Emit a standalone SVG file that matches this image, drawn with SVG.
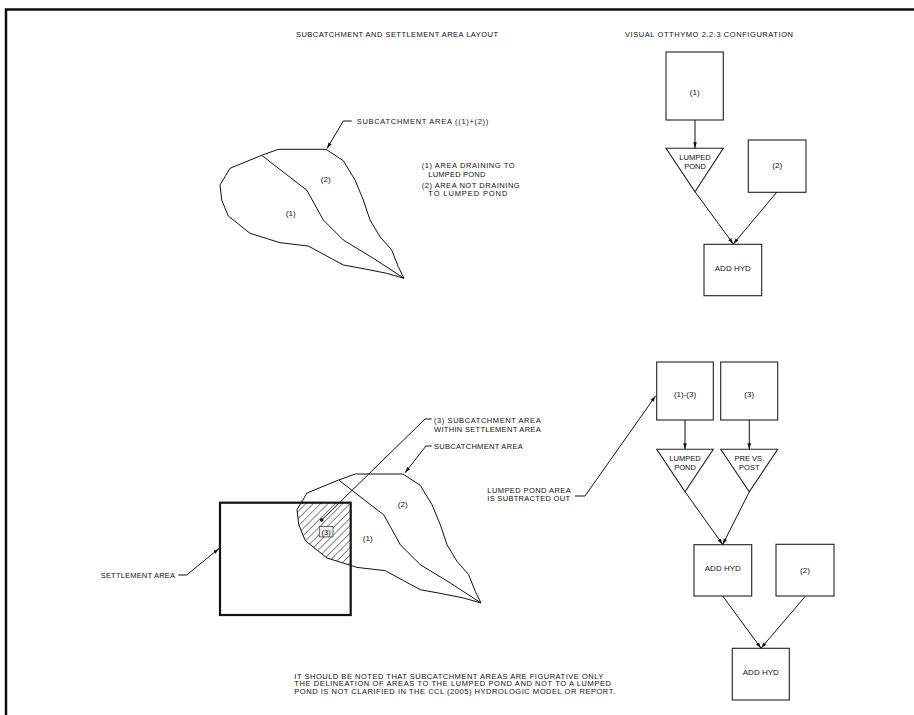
<svg xmlns="http://www.w3.org/2000/svg" width="914" height="715" viewBox="0 0 914 715">
<defs>
<style>
.t{font-family:"Liberation Sans",Arial,sans-serif;font-size:7.5px;fill:#111}
.s8{font-size:8px}
.c{text-anchor:middle}
.ln{fill:none;stroke:#111;stroke-width:1}
.bx{fill:#fff;stroke:#222;stroke-width:1.1}
.poly{fill:none;stroke:#111;stroke-width:1;stroke-linejoin:round}
</style>
<marker id="ar" viewBox="0 0 10 10" refX="10" refY="5" markerWidth="6" markerHeight="6" orient="auto" markerUnits="userSpaceOnUse"><path d="M0,2 L10,5 L0,8 z" fill="#111"/></marker>
<pattern id="hatch" patternUnits="userSpaceOnUse" width="5.2" height="5.2" patternTransform="rotate(45)"><line x1="0" y1="0" x2="0" y2="5.2" stroke="#111" stroke-width="1"/></pattern>
<clipPath id="settleClip"><rect x="220" y="502.7" width="130.7" height="112.3"/></clipPath>
</defs>
<rect x="0" y="0" width="914" height="715" fill="#fff"/>
<path d="M6,715 L6,9.5 L914,9.5" fill="none" stroke="#111" stroke-width="2.5"/>

<text class="t" x="296" y="36.5" textLength="202">SUBCATCHMENT AND SETTLEMENT AREA LAYOUT</text>
<text class="t" x="625" y="36.5" textLength="168">VISUAL OTTHYMO 2.2.3 CONFIGURATION</text>

<g id="top-catchment">
<path class="poly" d="M278.3,149.3 L326,149.3 L343.3,160.7 L355,180 L363.3,200 L370,220 L380,236.7 L391.7,250 L398.3,266.7 L404,278.3 L386.7,273.3 L366.7,269.3 L343.3,265 L326.7,256 L308.3,246 L280,242.7 L250,233.3 L228.3,216 L221.7,200 L220,185 L230,168.3 L261.7,155.3 Z"/>
<path class="poly" d="M261.7,155.3 L300,185 L306.7,190 L315,205 L323.3,220 L343.3,240 L373.3,258.3 L404,278.3"/>
<text class="t c s8" x="325.7" y="181.5">(2)</text>
<text class="t c s8" x="290.7" y="216">(1)</text>
</g>
<g id="top-legend">
<text class="t" x="356.7" y="123.8" textLength="131.6">SUBCATCHMENT AREA ((1)+(2))</text>
<text class="t" x="421.7" y="167.8" textLength="93">(1) AREA DRAINING TO</text>
<text class="t" x="428.3" y="176.8" textLength="57">LUMPED POND</text>
<text class="t" x="421.7" y="187.8" textLength="98">(2) AREA NOT DRAINING</text>
<text class="t" x="428.3" y="196.3" textLength="79">TO LUMPED POND</text>
</g>

<g id="bottom-catchment">
<path d="M355.3,474 L403,474 L420.3,485.4 L432,504.7 L440.3,524.7 L447,544.7 L457,561.4 L468.7,574.7 L475.3,591.4 L481,603 L463.7,598 L443.7,594 L420.3,589.7 L403.7,580.7 L385.3,570.7 L357,567.4 L327,558 L305.3,540.7 L298.7,524.7 L297,509.7 L307,493 L338.7,480 Z" fill="url(#hatch)" clip-path="url(#settleClip)"/>
<path class="poly" d="M355.3,474 L403,474 L420.3,485.4 L432,504.7 L440.3,524.7 L447,544.7 L457,561.4 L468.7,574.7 L475.3,591.4 L481,603 L463.7,598 L443.7,594 L420.3,589.7 L403.7,580.7 L385.3,570.7 L357,567.4 L327,558 L305.3,540.7 L298.7,524.7 L297,509.7 L307,493 L338.7,480 Z"/>
<path class="poly" d="M338.7,480 L377,509.7 L383.7,514.7 L392,529.7 L400.3,544.7 L420.3,564.7 L450.3,583 L481,603"/>
<text class="t c s8" x="402.7" y="506.5">(2)</text>
<text class="t c s8" x="367.7" y="541">(1)</text>
</g>
<g id="settlement-area">
<rect x="220" y="502.7" width="130.7" height="112.3" fill="none" stroke="#111" stroke-width="2.2"/>
<text class="t" x="100.7" y="577.8" textLength="74.3">SETTLEMENT AREA</text>
</g>
<g id="label-3">
<rect x="319.3" y="526.5" width="13.7" height="10.4" fill="#eee" stroke="#444" stroke-width="0.8"/>
<text class="t c" x="326.2" y="534.5">(3)</text>
<circle cx="321.7" cy="520" r="1.8" fill="#111"/>
</g>
<g id="bottom-labels">
<text class="t" x="434" y="423.3" textLength="106.7">(3) SUBCATCHMENT AREA</text>
<text class="t" x="434" y="431.8" textLength="106.7">WITHIN SETTLEMENT AREA</text>
<text class="t" x="434" y="448.8" textLength="88.7">SUBCATCHMENT AREA</text>
<text class="t" x="487.3" y="492.8" textLength="83.4">LUMPED POND AREA</text>
<text class="t" x="487.3" y="501.3" textLength="82.7">IS SUBTRACTED OUT</text>
</g>

<g id="top-flow">
<g id="n-t1"><rect class="bx" x="666" y="52" width="57.3" height="68"/><text class="t c s8" x="694.7" y="95">(1)</text></g>
<g id="n-t-pond"><path class="bx" d="M666,148.3 L723.3,148.3 L695,191.7 Z"/><text class="t c" x="695" y="159.5">LUMPED</text><text class="t c" x="695" y="168.5">POND</text></g>
<g id="n-t2"><rect class="bx" x="748.3" y="140" width="57.7" height="52.3"/><text class="t c s8" x="777.2" y="168">(2)</text></g>
<g id="n-t-add"><rect class="bx" x="704" y="244.3" width="57.7" height="51.4"/><text class="t c s8" x="732.8" y="270.5">ADD HYD</text></g>
</g>

<g id="bottom-flow">
<g id="n-b13"><rect class="bx" x="656.7" y="362" width="56.6" height="58"/><text class="t c s8" x="685" y="396.5">(1)-(3)</text></g>
<g id="n-b3"><rect class="bx" x="720.7" y="362" width="57" height="58"/><text class="t c s8" x="749.2" y="396.5">(3)</text></g>
<g id="n-b-pond"><path class="bx" d="M656.7,449.3 L713.3,449.3 L685,491.7 Z"/><text class="t c" x="685" y="461">LUMPED</text><text class="t c" x="685" y="470">POND</text></g>
<g id="n-b-prepost"><path class="bx" d="M720.7,449.3 L777.7,449.3 L749.3,491.7 Z"/><text class="t c" x="749.3" y="461">PRE VS.</text><text class="t c" x="749.3" y="470">POST</text></g>
<g id="n-b-add1"><rect class="bx" x="694" y="544.7" width="57.7" height="51.3"/><text class="t c s8" x="722.8" y="571">ADD HYD</text></g>
<g id="n-b2"><rect class="bx" x="776" y="544.3" width="58" height="51.7"/><text class="t c s8" x="805" y="572.5">(2)</text></g>
<g id="n-b-add2"><rect class="bx" x="732.3" y="648.3" width="57" height="51.7"/><text class="t c s8" x="760.8" y="674.5">ADD HYD</text></g>
</g>

<g id="connectors">
<path class="ln" d="M351.7,121 L343.3,121 L327,148.5" marker-end="url(#ar)"/>
<path class="ln" d="M431.7,419 L425,419 L321.7,520"/>
<path class="ln" d="M431.7,446 L426,446 L405,472.8" marker-end="url(#ar)"/>
<path class="ln" d="M178.3,575 L186.7,575 L219,548.5" marker-end="url(#ar)"/>
<path class="ln" d="M575,496 L585,496 L655.5,396" marker-end="url(#ar)"/>
<path class="ln" d="M695,120 L695,148.3" marker-end="url(#ar)"/>
<path class="ln" d="M695,191.7 L733.3,244" marker-end="url(#ar)"/>
<path class="ln" d="M776.7,192.3 L733.3,244" marker-end="url(#ar)"/>
<path class="ln" d="M685,420 L685,449.3" marker-end="url(#ar)"/>
<path class="ln" d="M749.3,420 L749.3,449.3" marker-end="url(#ar)"/>
<path class="ln" d="M685,491.7 L722.7,544.5" marker-end="url(#ar)"/>
<path class="ln" d="M749.3,491.7 L722.7,544.5" marker-end="url(#ar)"/>
<path class="ln" d="M722.7,596 L761,648.2" marker-end="url(#ar)"/>
<path class="ln" d="M805,596.7 L761,648.2" marker-end="url(#ar)"/>
</g>

<text class="t" x="294.3" y="678.8" textLength="309">IT SHOULD BE NOTED THAT SUBCATCHMENT AREAS ARE FIGURATIVE ONLY</text>
<text class="t" x="294.3" y="686.3" textLength="316.7">THE DELINEATION OF AREAS TO THE LUMPED POND AND NOT TO A LUMPED</text>
<text class="t" x="294.3" y="693.8" textLength="320.7">POND IS NOT CLARIFIED IN THE CCL (2005) HYDROLOGIC MODEL OR REPORT.</text>
</svg>
